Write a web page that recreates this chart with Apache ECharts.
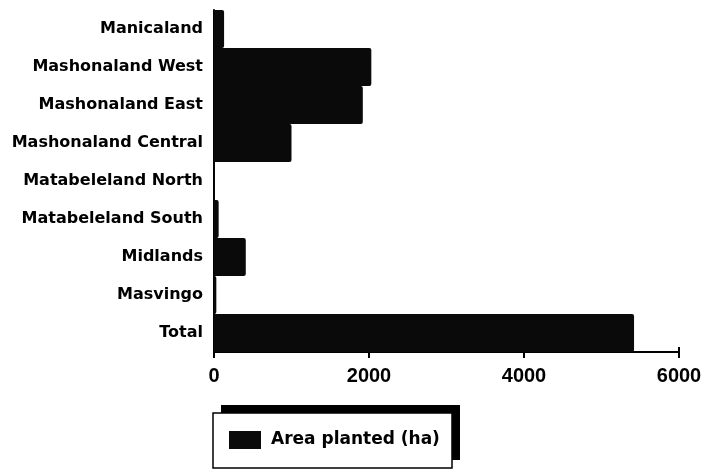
<!DOCTYPE html>
<html>
<head>
<meta charset="utf-8">
<script src="https://cdn.jsdelivr.net/npm/echarts@6/dist/echarts.min.js"></script>
<style>
  html, body { margin: 0; padding: 0; background: #fff; }
  #chart { width: 705px; height: 471px; }
</style>
</head>
<body>
<div id="chart"></div>
<script>
// Provinces, listed top to bottom
const provinces = [
  'Manicaland', 'Mashonaland West', 'Mashonaland East', 'Mashonaland Central',
  'Matabeleland North', 'Matabeleland South', 'Midlands', 'Masvingo', 'Total'
];
// Area planted per province (ha)
const areaPlanted = [130, 2030, 1920, 1000, 10, 60, 410, 30, 5420];
// Value axis ticks
const xTicks = [0, 2000, 4000, 6000];
const seriesName = 'Area planted (ha)';

const labelFont = 'DejaVu Sans';
const tickFont = 'Liberation Sans';
const chart = echarts.init(document.getElementById('chart'));

chart.setOption({
  animation: false,
  backgroundColor: '#fff',
  grid: { left: 214, right: 26, top: 10, bottom: 119 },
  // Legend frame: white box with a solid black drop shadow to the upper right
  graphic: [
    {
      type: 'rect', z: 0, silent: true,
      shape: { x: 221, y: 405, width: 239, height: 55 },
      style: { fill: '#000' }
    },
    {
      type: 'rect', z: 1, silent: true,
      shape: { x: 213, y: 413, width: 239, height: 55 },
      style: { fill: '#fff', stroke: '#000', lineWidth: 1.5 }
    }
  ],
  legend: {
    data: [seriesName],
    left: 229,
    top: 431,
    z: 10,
    icon: 'rect',
    itemWidth: 32,
    itemHeight: 18,
    padding: 0,
    textStyle: {
      fontFamily: labelFont, fontWeight: 'bold', fontSize: 17, color: '#000',
      padding: [0, 0, 0, 5]
    }
  },
  xAxis: [
    {
      type: 'value',
      min: xTicks[0],
      max: xTicks[xTicks.length - 1],
      interval: xTicks[1] - xTicks[0],
      position: 'bottom',
      splitLine: { show: false },
      axisLine: { show: true, lineStyle: { color: '#000', width: 2 } },
      axisTick: { show: true, inside: false, length: 6, lineStyle: { color: '#000', width: 2 } },
      axisLabel: {
        margin: 14, fontFamily: tickFont, fontWeight: 'bold', fontSize: 20, color: '#000',
        formatter: (v) => String(v)
      }
    },
    {
      type: 'value',
      min: xTicks[0],
      max: xTicks[xTicks.length - 1],
      interval: xTicks[1] - xTicks[0],
      position: 'bottom',
      splitLine: { show: false },
      axisLine: { show: false },
      axisTick: { show: true, inside: true, length: 5, lineStyle: { color: '#000', width: 2 } },
      axisLabel: { show: false }
    }
  ],
  yAxis: {
    type: 'category',
    data: provinces,
    inverse: true,
    axisLine: { show: true, lineStyle: { color: '#000', width: 2 } },
    axisTick: { show: false },
    axisLabel: { margin: 11, fontFamily: labelFont, fontWeight: 'bold', fontSize: 16, color: '#000' }
  },
  series: [
    {
      name: seriesName,
      type: 'bar',
      data: areaPlanted,
      barCategoryGap: '0%',
      itemStyle: { color: '#0a0a0a', borderRadius: [0, 2, 2, 0] },
      z: 1
    }
  ]
});
</script>
</body>
</html>
